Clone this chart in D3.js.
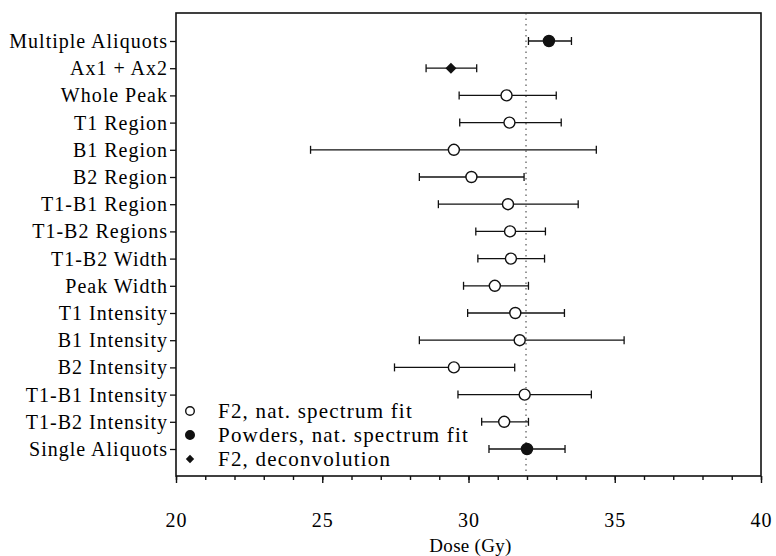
<!DOCTYPE html>
<html>
<head>
<meta charset="utf-8">
<script src="https://cdn.jsdelivr.net/npm/d3@7"></script>
<style>
  body { margin: 0; background: #fff; }
  svg text { font-family: "Liberation Serif", "DejaVu Serif", serif; fill: #000; }
</style>
</head>
<body>
<svg id="chart" width="776" height="556"></svg>
<script>
// Data
const labels = ['Multiple Aliquots', 'Ax1 + Ax2', 'Whole Peak', 'T1 Region', 'B1 Region', 'B2 Region',
  'T1-B1 Region', 'T1-B2 Regions', 'T1-B2 Width', 'Peak Width', 'T1 Intensity', 'B1 Intensity',
  'B2 Intensity', 'T1-B1 Intensity', 'T1-B2 Intensity', 'Single Aliquots'];
const dose = [32.75, 29.4, 31.3, 31.4, 29.5, 30.1, 31.35, 31.42, 31.45, 30.9, 31.6, 31.75, 29.5, 31.92, 31.22, 32.0];
const lower = [32.05, 28.55, 29.68, 29.7, 24.6, 28.32, 28.97, 30.25, 30.32, 29.83, 29.97, 28.32, 27.47, 29.64, 30.45, 30.7];
const upper = [33.52, 30.28, 33.0, 33.17, 34.37, 31.9, 33.75, 32.63, 32.6, 32.05, 33.28, 35.32, 31.58, 34.2, 32.05, 33.3];
const kind = ['powder', 'deconv', 'nat', 'nat', 'nat', 'nat', 'nat', 'nat', 'nat', 'nat', 'nat', 'nat', 'nat', 'nat', 'nat', 'powder'];
const refDose = 32.0;
const legendItems = [
  { kind: 'nat', text: 'F2, nat. spectrum fit' },
  { kind: 'powder', text: 'Powders, nat. spectrum fit' },
  { kind: 'deconv', text: 'F2, deconvolution' }
];

const svg = d3.select('#chart');
const margin = { top: 13, right: 15, bottom: 80, left: 176 };
const width = 776 - margin.left - margin.right;
const height = 556 - margin.top - margin.bottom;
const g = svg.append('g').attr('transform', `translate(${margin.left},${margin.top})`);

const x = d3.scaleLinear().domain([20, 40]).range([0, width]);
const y = d3.scalePoint().domain(labels).range([28, height - 27]);

// frame
g.append('rect')
  .attr('width', width).attr('height', height)
  .attr('fill', 'none').attr('stroke', '#111').attr('stroke-width', 1.6);

// reference dotted line
g.append('line')
  .attr('x1', x(refDose) - 1).attr('x2', x(refDose) - 1)
  .attr('y1', 0).attr('y2', height)
  .attr('stroke', '#333').attr('stroke-width', 1)
  .attr('stroke-dasharray', '1.5,4');

// x axis: major + minor ticks
const xAxis = g.append('g').attr('transform', `translate(0,${height})`);
xAxis.call(d3.axisBottom(x).tickValues(d3.range(20, 41, 1)).tickSize(4).tickFormat(''))
  .call(a => a.select('.domain').remove());
xAxis.append('g')
  .call(d3.axisBottom(x).tickValues(d3.range(20, 41, 5)).tickSize(7).tickPadding(30))
  .call(a => a.select('.domain').remove())
  .call(a => a.selectAll('text')
    .attr('font-family', '"Liberation Serif", serif')
    .attr('font-size', 20).attr('letter-spacing', 1));
xAxis.selectAll('line').attr('stroke', '#111').attr('stroke-width', 1.4);

svg.append('text')
  .attr('x', margin.left + width / 2 + 2).attr('y', 552)
  .attr('text-anchor', 'middle').attr('font-size', 19).attr('letter-spacing', 0.3)
  .text('Dose (Gy)');

// y axis
const yAxis = g.append('g')
  .call(d3.axisLeft(y).tickSize(6).tickPadding(2))
  .call(a => a.select('.domain').remove());
yAxis.selectAll('text')
  .attr('font-family', '"Liberation Serif", serif')
  .attr('font-size', 20).attr('letter-spacing', 1).attr('fill', '#000');
yAxis.selectAll('line').attr('stroke', '#111').attr('stroke-width', 1.3);

// error bars
const bars = g.selectAll('.bar').data(labels).enter().append('g').attr('class', 'bar');
bars.append('line')
  .attr('x1', (d, i) => x(lower[i])).attr('x2', (d, i) => x(upper[i]))
  .attr('y1', d => y(d)).attr('y2', d => y(d))
  .attr('stroke', '#111').attr('stroke-width', 1.3);
['lower', 'upper'].forEach(side => {
  const arr = side === 'lower' ? lower : upper;
  bars.append('line')
    .attr('x1', (d, i) => x(arr[i])).attr('x2', (d, i) => x(arr[i]))
    .attr('y1', d => y(d) - 4).attr('y2', d => y(d) + 4)
    .attr('stroke', '#111').attr('stroke-width', 1.3);
});

function drawMarker(sel, k, size) {
  if (k === 'deconv') {
    const s = size * 1.1;
    sel.append('path').attr('d', `M0,${-s}L${s},0L0,${s}L${-s},0Z`).attr('fill', '#111');
  } else {
    sel.append('circle').attr('r', size)
      .attr('fill', k === 'nat' ? '#fff' : '#111')
      .attr('stroke', '#111').attr('stroke-width', 1.4);
  }
}

labels.forEach((d, i) => {
  const m = g.append('g').attr('transform', `translate(${x(dose[i])},${y(d)})`);
  drawMarker(m, kind[i], kind[i] === 'deconv' ? 5 : 5.5);
});

// legend
const legend = g.append('g').attr('transform', 'translate(14,398)');
legendItems.forEach((item, i) => {
  const row = legend.append('g').attr('transform', `translate(0,${i * 24})`);
  drawMarker(row.append('g'), item.kind, item.kind === 'deconv' ? 3.8 : 4.3);
  row.append('text').attr('x', 28).attr('y', 7)
    .attr('font-size', 21).attr('letter-spacing', 1.2).text(item.text);
});
</script>
</body>
</html>
